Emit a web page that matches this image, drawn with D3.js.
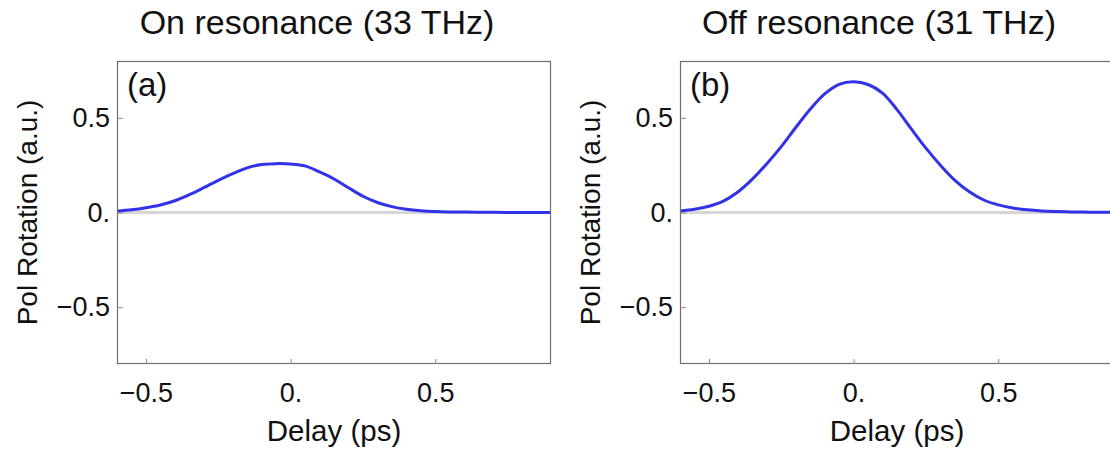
<!DOCTYPE html>
<html>
<head>
<meta charset="utf-8">
<script src="https://cdn.jsdelivr.net/npm/d3@7"></script>
<style>
  html, body { margin: 0; padding: 0; background: #fff; }
  svg { display: block; font-family: "Liberation Sans", Arial, sans-serif; }
</style>
</head>
<body>
<svg id="chart" width="1110" height="450"></svg>
<script>
// Pump-probe delay (ps)
const delay = [-0.60, -0.55, -0.50, -0.45, -0.40, -0.35, -0.30, -0.25, -0.20, -0.15,
               -0.10, -0.05, 0.00, 0.05, 0.10, 0.15, 0.20, 0.25, 0.30, 0.35,
               0.40, 0.45, 0.50, 0.55, 0.60, 0.65, 0.70, 0.75, 0.80, 0.85, 0.90];

// Polarization rotation, on resonance (33 THz)
const rotationOn = [0.007, 0.014, 0.025, 0.040, 0.062, 0.094, 0.131, 0.170, 0.205, 0.236,
                    0.253, 0.258, 0.256, 0.246, 0.214, 0.177, 0.131, 0.086, 0.053, 0.031,
                    0.017, 0.009, 0.005, 0.003, 0.002, 0.001, 0.001, 0.000, 0.000, 0.000, 0.000];

// Polarization rotation, off resonance (31 THz)
const rotationOff = [0.008, 0.017, 0.033, 0.060, 0.108, 0.176, 0.258, 0.348, 0.449, 0.545,
                     0.626, 0.677, 0.690, 0.676, 0.630, 0.543, 0.440, 0.340, 0.250, 0.170,
                     0.110, 0.066, 0.040, 0.024, 0.014, 0.008, 0.005, 0.003, 0.002, 0.001, 0.001];

const xTicks = [-0.5, 0, 0.5];
const yTicks = [-0.5, 0, 0.5];
const tickText = { "-0.5": "\u22120.5", "0": "0.", "0.5": "0.5" };

const titles = ["On resonance (33 THz)", "Off resonance (31 THz)"];
const panelTags = ["(a)", "(b)"];
const xTitle = "Delay (ps)";
const yTitle = "Pol Rotation (a.u.)";

const svg = d3.select("#chart");

const panels = [
  { left: 117, right: 551, title: titles[0], titleX: 317, tag: panelTags[0], values: rotationOn },
  { left: 680, right: 1114, title: titles[1], titleX: 879, tag: panelTags[1], values: rotationOff }
];
const frameTop = 61, frameBottom = 364;

const fmt = v => tickText[String(v)];

panels.forEach(p => {
  const x = d3.scaleLinear().domain([-0.6, 0.9]).range([p.left, p.right]);
  const y = d3.scaleLinear().domain([-0.8, 0.8]).range([frameBottom, frameTop]);
  const g = svg.append("g");

  // zero reference line
  g.append("line")
    .attr("x1", x(-0.6)).attr("x2", x(0.9))
    .attr("y1", y(0)).attr("y2", y(0))
    .attr("stroke", "#d6d6d6").attr("stroke-width", 3);

  // data curve
  const line = d3.line()
    .x((d, i) => x(delay[i]))
    .y(d => y(d))
    .curve(d3.curveCatmullRom.alpha(0.5));
  g.append("path")
    .datum(p.values)
    .attr("d", line)
    .attr("fill", "none")
    .attr("stroke", "#3232e8")
    .attr("stroke-width", 3)
    .attr("stroke-linejoin", "round");

  // frame
  g.append("rect")
    .attr("x", p.left + 0.5).attr("y", frameTop + 0.5)
    .attr("width", p.right - p.left - 1).attr("height", frameBottom - frameTop - 1)
    .attr("fill", "none").attr("stroke", "#6e6e6e").attr("stroke-width", 1.2);

  // x axis (ticks point inward)
  const xAxis = d3.axisBottom(x).tickValues(xTicks).tickFormat(fmt)
    .tickSizeInner(-5).tickSizeOuter(0).tickPadding(19);
  const gx = g.append("g").attr("transform", `translate(0,${frameBottom})`).call(xAxis);
  gx.select(".domain").remove();
  gx.selectAll(".tick line").attr("stroke", "#8a8a8a");
  gx.selectAll(".tick text")
    .attr("fill", "#111").attr("font-size", 27)
    .attr("font-family", "Liberation Sans, Arial, sans-serif");

  // y axis (ticks point inward)
  const yAxis = d3.axisLeft(y).tickValues(yTicks).tickFormat(fmt)
    .tickSizeInner(-6).tickSizeOuter(0).tickPadding(7);
  const gy = g.append("g").attr("transform", `translate(${p.left},0)`).call(yAxis);
  gy.select(".domain").remove();
  gy.selectAll(".tick line").attr("stroke", "#8a8a8a");
  gy.selectAll(".tick text")
    .attr("fill", "#111").attr("font-size", 27)
    .attr("font-family", "Liberation Sans, Arial, sans-serif");

  // titles and labels
  g.append("text")
    .attr("x", p.titleX).attr("y", 34)
    .attr("text-anchor", "middle").attr("font-size", 34).attr("fill", "#111")
    .text(p.title);

  g.append("text")
    .attr("x", p.left + 10).attr("y", 96)
    .attr("font-size", 33).attr("fill", "#111")
    .text(p.tag);

  g.append("text")
    .attr("x", (p.left + p.right) / 2).attr("y", 441)
    .attr("text-anchor", "middle").attr("font-size", 29.5).attr("fill", "#111")
    .text(xTitle);

  g.append("text")
    .attr("transform", `translate(${p.left - 80},${(frameTop + frameBottom) / 2}) rotate(-90)`)
    .attr("text-anchor", "middle").attr("font-size", 28).attr("fill", "#111")
    .text(yTitle);
});
</script>
</body>
</html>
